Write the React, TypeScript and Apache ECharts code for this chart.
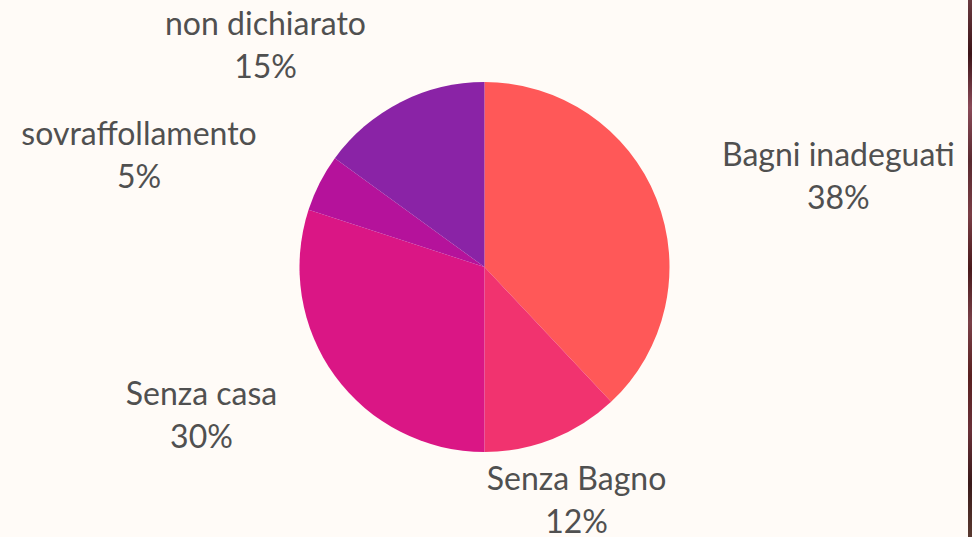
import React, { useEffect, useRef } from "react";
import * as echarts from "echarts";

const categories = ["Bagni inadeguati", "Senza Bagno", "Senza casa", "sovraffollamento", "non dichiarato"];
const values = [38, 12, 30, 5, 15];
const colors = ["#FF5858", "#F1336F", "#DA1685", "#B5129B", "#8A23A6"];

export default function App() {
  const ref = useRef<HTMLDivElement>(null);
  useEffect(() => {
    document.body.style.margin = "0";
    document.body.style.background = "#FFFBF7";
    const chart = echarts.init(ref.current!, null, { renderer: "svg" });
    const total = values.reduce((a, b) => a + b, 0);
    const mids: number[] = [];
    let acc = 0;
    values.forEach((v) => {
      mids.push(((acc + v / 2) / total) * Math.PI * 2);
      acc += v;
    });
    chart.setOption({
      animation: false,
      backgroundColor: "#FFFBF7",
      graphic: [
        {
          type: "rect",
          right: 0,
          top: 0,
          shape: { width: 4, height: 537 },
          style: {
            fill: new echarts.graphic.LinearGradient(0, 0, 0, 1, [
              { offset: 0, color: "#6a3a40" },
              { offset: 0.1, color: "#3d1418" },
              { offset: 0.2, color: "#8a4a58" },
              { offset: 0.3, color: "#5a2a30" },
              { offset: 0.4, color: "#7a3d45" },
              { offset: 0.5, color: "#4a1a1c" },
              { offset: 0.6, color: "#7a4048" },
              { offset: 0.7, color: "#5a2020" },
              { offset: 0.8, color: "#6a3038" },
              { offset: 0.9, color: "#3a1a1a" },
              { offset: 1, color: "#5a3a30" },
            ]),
          },
          silent: true,
        },
      ],
      series: [
        {
          type: "pie",
          center: [484.5, 267],
          radius: 185,
          startAngle: 90,
          clockwise: true,
          avoidLabelOverlap: false,
          data: categories.map((name, i) => ({
            name,
            value: values[i],
            itemStyle: { color: colors[i] },
          })),
          label: {
            show: true,
            position: "outside",
            distanceToLabelLine: 5,
            formatter: (p: any) => `{a|${p.name}}\n{a|${Math.round(p.percent)}%}`,
            rich: {
              a: {
                fontFamily: "Lato",
                fontSize: 32,
                lineHeight: 43,
                color: "#505050",
                align: "center",
              },
            },
          },
          labelLine: { show: false, length: 65, length2: 0 },
          labelLayout: (params: any) => {
            const m = mids[params.dataIndex];
            if (Math.abs(Math.sin(m)) < 0.4) {
              return { dx: -params.labelRect.width / 2 - 5 };
            }
            return {};
          },
          emphasis: { disabled: true },
        },
      ],
    });
    return () => chart.dispose();
  }, []);
  return <div ref={ref} style={{ width: 972, height: 537 }} />;
}
